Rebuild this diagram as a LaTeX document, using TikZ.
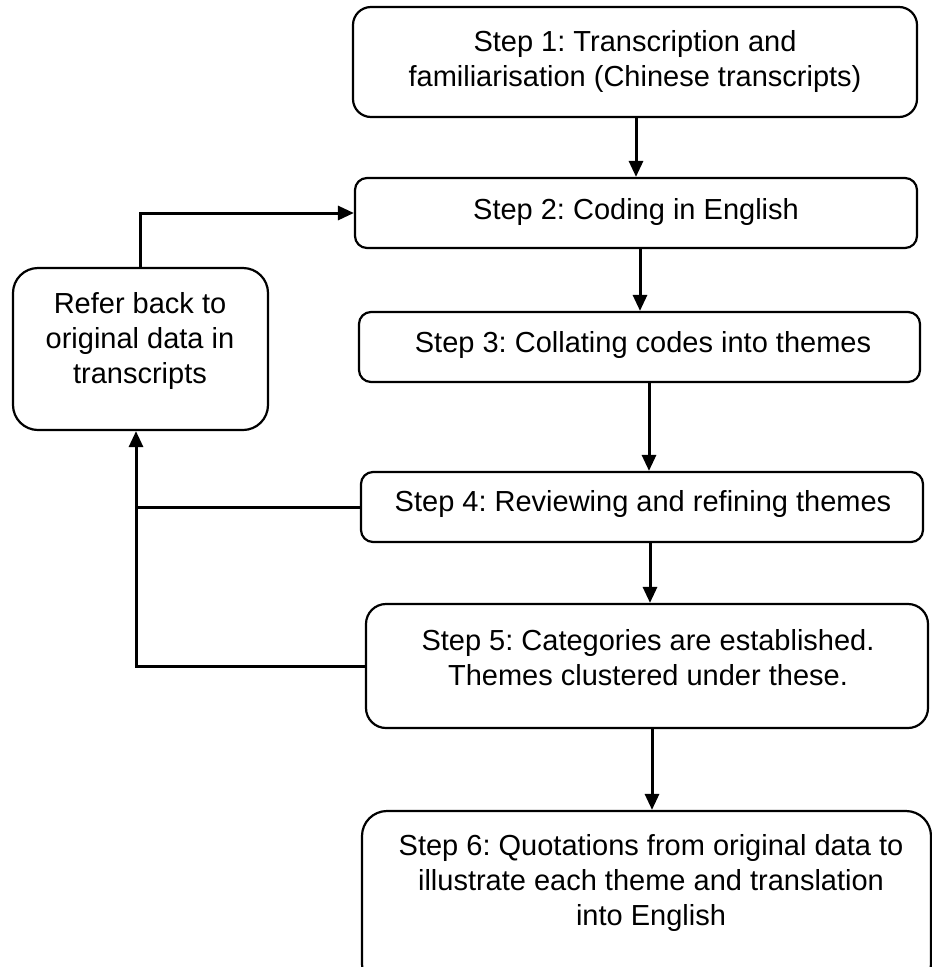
\documentclass[tikz,border=0pt]{standalone}
\usepackage{fontspec}
\setmainfont{Liberation Sans}
\usetikzlibrary{arrows.meta}
\begin{document}
\frenchspacing
\begin{tikzpicture}[x=1pt,y=-1pt,
  box/.style={draw=black, line width=2.2pt, inner sep=0pt, fill=white},
  txt/.style={align=center, inner sep=0pt, font=\fontsize{29}{35}\selectfont},
  conn/.style={draw=black, line width=3pt},
  arr/.style={conn, -{Triangle[length=16pt,width=14pt]}}]
\useasboundingbox (0,0) rectangle (932,967);
\clip (0,0) rectangle (932,967);
% boxes
\node[box, rounded corners=18pt, minimum width=564pt, minimum height=110pt] (b1) at (635,62) {};
\node[box, rounded corners=12pt, minimum width=562pt, minimum height=70pt] (b2) at (636,213) {};
\node[box, rounded corners=12pt, minimum width=561pt, minimum height=70pt] (b3) at (639.5,347) {};
\node[box, rounded corners=12pt, minimum width=562pt, minimum height=70pt] (b4) at (642,507) {};
\node[box, rounded corners=20pt, minimum width=562pt, minimum height=124pt] (b5) at (647,666) {};
\node[box, rounded corners=25pt, minimum width=569pt, minimum height=178pt] (b6) at (646.5,900) {};
\node[box, rounded corners=25pt, minimum width=255pt, minimum height=162pt] (L) at (140.5,349) {};
% texts
\node[txt] (t1) at (635,61) {Step 1: Transcription and\\familiarisation (Chinese transcripts)};
\node[txt] (t2) at (636,212) {Step 2: Coding in English};
\node[txt] (t3) at (643,345) {Step 3: Collating codes into themes};
\node[txt] (t4) at (643,504) {Step 4: Reviewing and refining themes};
\node[txt] (t5) at (648,658) {Step 5: Categories are established.\\Themes clustered under these.};
\node[txt] (t6) at (651,883) {Step 6: Quotations from original data to\\illustrate each theme and translation\\into English};
\node[txt] (tL) at (140,341) {Refer back to\\original data in\\transcripts};
% main flow
\draw[arr] (b1.south -| 636,0) -- (b2.north -| 636,0);
\draw[arr] (b2.south -| 640,0) -- (b3.north -| 640,0);
\draw[arr] (b3.south -| 649,0) -- (b4.north -| 649,0);
\draw[arr] (b4.south -| 650,0) -- (b5.north -| 650,0);
\draw[arr] (b5.south -| 652,0) -- (b6.north -| 652,0);
% feedback
\draw[arr] (L.north -| 140,0) |- (b2.west);
\coordinate (j) at (136,666);
\draw[conn] (b4.west) -- (b4.west -| j);
\draw[arr] (b5.west) -- (j) -- (L.south -| j);
\end{tikzpicture}
\end{document}
